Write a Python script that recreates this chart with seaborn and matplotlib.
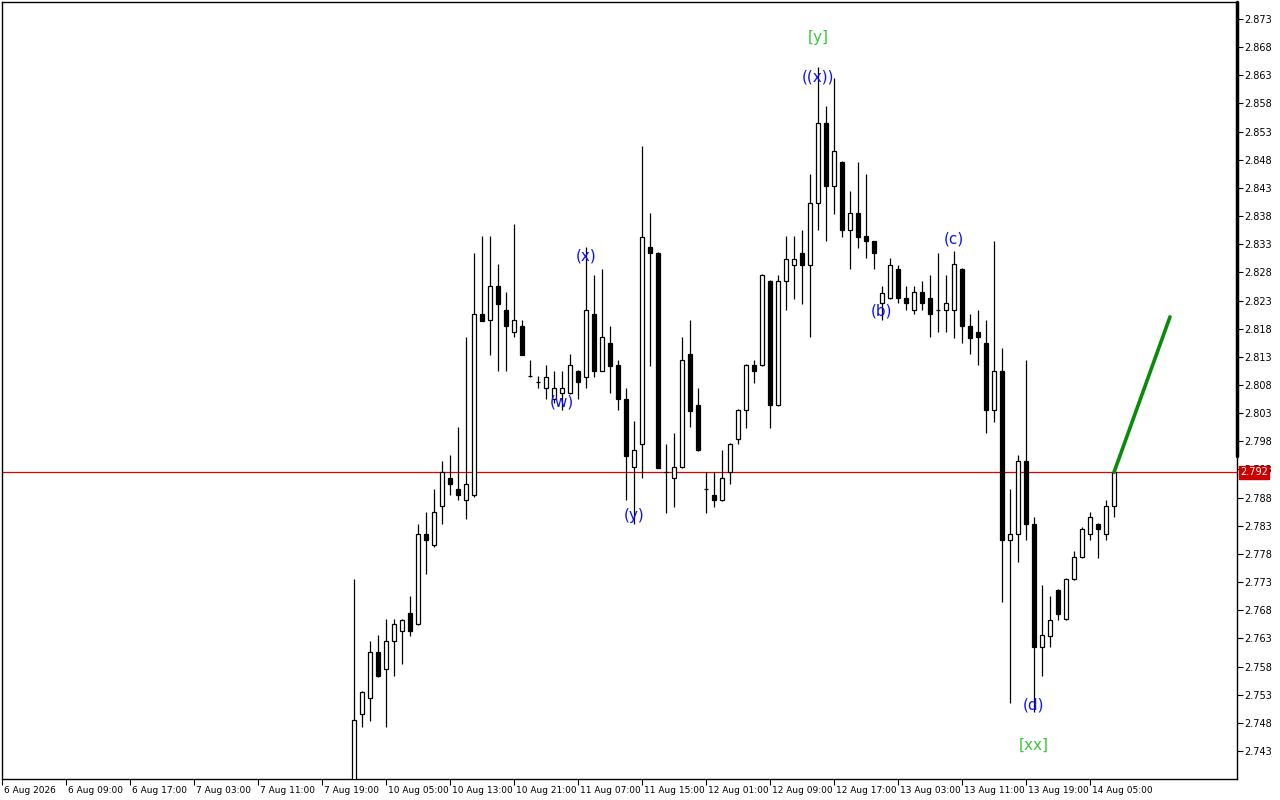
import numpy as np
import pandas as pd
import matplotlib
matplotlib.use('Agg')
import matplotlib.pyplot as plt
import matplotlib.transforms as mtransforms
import seaborn as sns

# hourly candles, bar index 44..139 (bars 0..43 have no data on the chart)
first_bar = 44
opens = [2.7360, 2.7495, 2.7525, 2.7605, 2.7575, 2.7625, 2.7644, 2.7675, 2.7655, 2.7815,
         2.7795, 2.7865, 2.7914, 2.7895, 2.7876, 2.7884, 2.8206, 2.8195, 2.8255, 2.8214,
         2.8175, 2.8184, 2.8096, 2.8085, 2.8074, 2.8055, 2.8065, 2.8065, 2.8105, 2.8095,
         2.8206, 2.8105, 2.8155, 2.8115, 2.8055, 2.7934, 2.7975, 2.8325, 2.8314, 2.7925,
         2.7914, 2.7934, 2.8135, 2.8044, 2.7895, 2.7884, 2.7875, 2.7925, 2.7985, 2.8035,
         2.8115, 2.8115, 2.8265, 2.8044, 2.8265, 2.8294, 2.8314, 2.8294, 2.8404, 2.8545,
         2.8434, 2.8476, 2.8355, 2.8385, 2.8344, 2.8335, 2.8225, 2.8234, 2.8286, 2.8234,
         2.8214, 2.8245, 2.8234, 2.8214, 2.8214, 2.8214, 2.8286, 2.8184, 2.8175, 2.8154,
         2.8035, 2.8104, 2.7804, 2.7815, 2.7945, 2.7834, 2.7614, 2.7635, 2.7716, 2.7664,
         2.7735, 2.7774, 2.7815, 2.7834, 2.7815, 2.7865]
highs = [2.7736, 2.7536, 2.7625, 2.7636, 2.7664, 2.7664, 2.7665, 2.7705, 2.7834, 2.7854,
         2.7895, 2.7945, 2.7956, 2.8005, 2.8165, 2.8314, 2.8345, 2.8345, 2.8295, 2.8245,
         2.8366, 2.8195, 2.8124, 2.8096, 2.8115, 2.8105, 2.8105, 2.8135, 2.8106, 2.8325,
         2.8275, 2.8286, 2.8185, 2.8124, 2.8074, 2.8016, 2.8504, 2.8385, 2.8316, 2.7975,
         2.7994, 2.8165, 2.8195, 2.8075, 2.7925, 2.7925, 2.7965, 2.7977, 2.8037, 2.8117,
         2.8124, 2.8277, 2.8267, 2.8275, 2.8345, 2.8345, 2.8355, 2.8454, 2.8644, 2.8575,
         2.8625, 2.8478, 2.8424, 2.8476, 2.8454, 2.8336, 2.8256, 2.8305, 2.8294, 2.8256,
         2.8256, 2.8265, 2.8275, 2.8314, 2.8275, 2.8318, 2.8288, 2.8206, 2.8214, 2.8195,
         2.8336, 2.8145, 2.7895, 2.7955, 2.8124, 2.7845, 2.7725, 2.7705, 2.7717, 2.7737,
         2.7785, 2.7827, 2.7854, 2.7835, 2.7875, 2.7927]
lows = [2.7340, 2.7473, 2.7484, 2.7562, 2.7473, 2.7564, 2.7584, 2.7635, 2.7653, 2.7745,
        2.7793, 2.7834, 2.7884, 2.7876, 2.7842, 2.7882, 2.8193, 2.8133, 2.8104, 2.8104,
        2.8165, 2.8133, 2.8095, 2.8074, 2.8055, 2.8048, 2.8036, 2.8064, 2.8055, 2.8074,
        2.8095, 2.8104, 2.8065, 2.8036, 2.7875, 2.7834, 2.7914, 2.8114, 2.7932, 2.7853,
        2.7864, 2.7932, 2.8005, 2.7963, 2.7853, 2.7864, 2.7874, 2.7905, 2.7975, 2.8004,
        2.8084, 2.8113, 2.8004, 2.8043, 2.8214, 2.8233, 2.8224, 2.8165, 2.8355, 2.8335,
        2.8384, 2.8343, 2.8286, 2.8324, 2.8305, 2.8286, 2.8195, 2.8233, 2.8225, 2.8214,
        2.8206, 2.8214, 2.8165, 2.8175, 2.8175, 2.8164, 2.8154, 2.8135, 2.8115, 2.7994,
        2.8015, 2.7694, 2.7515, 2.7765, 2.7804, 2.7499, 2.7564, 2.7614, 2.7663, 2.7663,
        2.7734, 2.7773, 2.7804, 2.7773, 2.7804, 2.7845]
closes = [2.7485, 2.7534, 2.7605, 2.7564, 2.7625, 2.7655, 2.7663, 2.7644, 2.7815, 2.7804,
          2.7854, 2.7925, 2.7905, 2.7884, 2.7905, 2.8206, 2.8194, 2.8255, 2.8224, 2.8184,
          2.8195, 2.8134, 2.8096, 2.8085, 2.8095, 2.8074, 2.8074, 2.8115, 2.8085, 2.8214,
          2.8104, 2.8165, 2.8114, 2.8055, 2.7954, 2.7964, 2.8343, 2.8314, 2.7933, 2.7925,
          2.7934, 2.8124, 2.8034, 2.7964, 2.7895, 2.7875, 2.7914, 2.7975, 2.8036, 2.8115,
          2.8104, 2.8275, 2.8044, 2.8265, 2.8304, 2.8304, 2.8294, 2.8404, 2.8545, 2.8434,
          2.8496, 2.8355, 2.8385, 2.8343, 2.8335, 2.8314, 2.8244, 2.8294, 2.8234, 2.8225,
          2.8245, 2.8225, 2.8206, 2.8214, 2.8225, 2.8295, 2.8184, 2.8164, 2.8165, 2.8035,
          2.8104, 2.7804, 2.7815, 2.7945, 2.7834, 2.7614, 2.7636, 2.7663, 2.7674, 2.7736,
          2.7774, 2.7825, 2.7845, 2.7825, 2.7865, 2.7925]

time_labels = ['6 Aug 2026', '6 Aug 09:00', '6 Aug 17:00', '7 Aug 03:00', '7 Aug 11:00',
               '7 Aug 19:00', '10 Aug 05:00', '10 Aug 13:00', '10 Aug 21:00', '11 Aug 07:00',
               '11 Aug 15:00', '12 Aug 01:00', '12 Aug 09:00', '12 Aug 17:00', '13 Aug 03:00',
               '13 Aug 11:00', '13 Aug 19:00', '14 Aug 05:00']
price_ticks = [2.743, 2.748, 2.753, 2.758, 2.763, 2.768, 2.773, 2.778, 2.783, 2.788, 2.793,
               2.798, 2.803, 2.808, 2.813, 2.818, 2.823, 2.828, 2.833, 2.838, 2.843, 2.848,
               2.853, 2.858, 2.863, 2.868, 2.873]

# wave labels: text, bar, price
wave_text = ['[y]', '((x))', '(x)', '(w)', '(y)', '(b)', '(c)', '(d)', '[xx]']
wave_bar = [102, 102, 73, 70, 79, 110, 119, 129, 129]
wave_price = [2.8698, 2.8627, 2.8309, 2.8050, 2.7849, 2.8211, 2.8339, 2.7512, 2.7441]
wave_color = ['#3cc83c', '#1010ff', '#1010ff', '#1010ff', '#1010ff', '#1010ff', '#1010ff',
              '#1010ff', '#3cc83c']

bid = 2.7925
proj_bar = [139, 146]
proj_price = [2.7925, 2.8201]

df = pd.DataFrame({'open': opens, 'high': highs, 'low': lows, 'close': closes})
df['bar'] = np.arange(first_bar, first_bar + len(df))
df['up'] = df['close'] >= df['open']

sns.set_style('white')
plt.rcParams['font.family'] = ['DejaVu Sans']

fig = plt.figure(figsize=(12.8, 8), dpi=100)
ax = fig.add_axes([2 / 1280, 21 / 800, 1235 / 1280, 777 / 800])

ax.vlines(df['bar'], df['low'], df['high'], color='black', linewidth=0.9, zorder=2)
body_low = df[['open', 'close']].min(axis=1)
body_h = (df['close'] - df['open']).abs()
ax.bar(df['bar'], body_h, bottom=body_low, width=0.6,
       color=np.where(df['up'], 'white', 'black'), edgecolor='black', linewidth=0.9, zorder=3)

ax.axhline(bid, color='#e00000', linewidth=0.9, zorder=1)
sns.lineplot(x=proj_bar, y=proj_price, ax=ax, color='#0a8a0a', linewidth=2.6, zorder=4)

for t, b, p, c in zip(wave_text, wave_bar, wave_price, wave_color):
    ax.text(b, p, t, color=c, fontsize=11, ha='center', va='center', zorder=5)

ax.set_xlim(0, 154.375)
ax.set_ylim(2.73803, 2.87602)
ax.set_xticks(range(0, 8 * len(time_labels), 8))
ax.set_xticklabels(time_labels, ha='left', fontsize=6.5)
ax.yaxis.tick_right()
ax.set_yticks(price_ticks)
ax.set_yticklabels(['%.3f' % v for v in price_ticks], fontsize=7)
ax.tick_params(axis='x', direction='out', length=4, width=0.8, pad=1, colors='black')
ax.tick_params(axis='y', direction='out', length=4, width=0.8, pad=1, colors='black')
ax.xaxis.set_ticks_position('bottom')
shift = mtransforms.ScaledTranslation(1.5 / 100, 0, fig.dpi_scale_trans)
for lab in ax.get_xticklabels():
    lab.set_transform(lab.get_transform() + shift)
for s in ax.spines.values():
    s.set_color('black')
    s.set_linewidth(1)
ax.set_xlabel('')
ax.set_ylabel('')

# thick mark on the right border above the bid
ax.plot([1, 1], [2.7954, 2.87602], transform=ax.get_yaxis_transform(), color='black',
        linewidth=2.5, clip_on=False, zorder=6)

ax.text(1.0025, bid, '2.792', transform=ax.get_yaxis_transform(), fontsize=7, color='white',
        ha='left', va='center', zorder=7,
        bbox=dict(boxstyle='square,pad=0.15', facecolor='#cc0000', edgecolor='#cc0000'))

fig.savefig('out.png', dpi=100, facecolor='white')
